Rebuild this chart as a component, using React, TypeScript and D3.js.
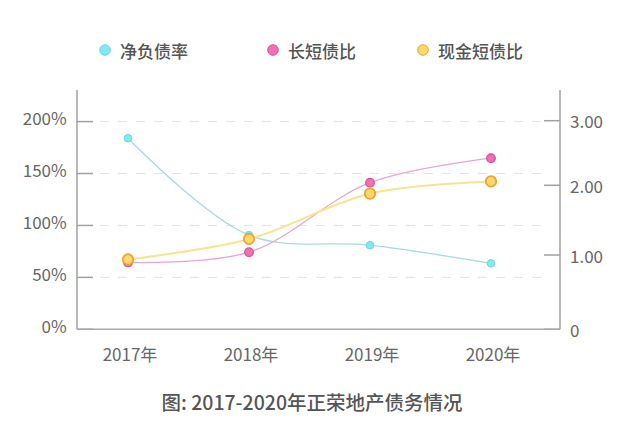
import React from "react";
import * as d3 from "d3";

const years = ["2017年", "2018年", "2019年", "2020年"];
const netDebtRatio = [184, 90.7, 81, 63.5]; // %
const longShortRatio = [0.9, 1.04, 2.04, 2.42];
const cashShortRatio = [0.94, 1.23, 1.88, 2.06];
const leftTicks = [0, 50, 100, 150, 200];
const rightTicks = [0, 1, 2, 3];
const legendNames = ["净负债率", "长短债比", "现金短债比"];
const title = "图: 2017-2020年正荣地产债务情况";

const W = 625;
const H = 432;
const FONT = "'Noto Sans CJK SC', 'Noto Sans', sans-serif";

export default function App() {
  const left = 77;
  const right = 560;
  const top = 90;
  const bottom = 329.3;

  const x = d3.scalePoint<string>().domain(years).range([128, 491]);
  const yL = d3.scaleLinear().domain([0, 200]).range([bottom, 121.6]);
  const yR = d3.scaleLinear().domain([0, 1, 2, 3]).range([bottom, 255, 185.3, 120.7]);

  const curve = d3.curveCatmullRom.alpha(0.5);
  const lineL = d3
    .line<number>()
    .x((_, i) => x(years[i]) as number)
    .y((d) => yL(d))
    .curve(curve);
  const lineR = d3
    .line<number>()
    .x((_, i) => x(years[i]) as number)
    .y((d) => yR(d))
    .curve(curve);

  const series = [
    { name: legendNames[0], data: netDebtRatio, line: lineL, y: yL, stroke: "#a9dadf", width: 1.3, fill: "#80eaf3", pstroke: "#6fd6e2", r: 3.8, sw: 1 },
    { name: legendNames[1], data: longShortRatio, line: lineR, y: yR, stroke: "#e8a6cf", width: 1.3, fill: "#f26fb4", pstroke: "#d2509a", r: 4.3, sw: 1.2 },
    { name: legendNames[2], data: cashShortRatio, line: lineR, y: yR, stroke: "#f8e48c", width: 2, fill: "#ffda6a", pstroke: "#eea234", r: 5.2, sw: 1.8 },
  ];

  const legendX = [105, 273, 423];

  return (
    <svg width={W} height={H} style={{ position: "absolute", left: 0, top: 0, background: "#fff" }} fontFamily={FONT}>
      <rect width={W} height={H} fill="#fff" />
      {/* legend */}
      {series.map((s, i) => (
        <g key={s.name}>
          <circle cx={legendX[i]} cy={50} r={5.3} fill={s.fill} stroke={s.pstroke} strokeWidth={1} />
          <text x={legendX[i] + 15} y={50} dominantBaseline="central" fontSize={17} fill="#555" fontWeight={500}>
            {s.name}
          </text>
        </g>
      ))}

      {/* gridlines */}
      {leftTicks.slice(1).map((t) => (
        <line key={t} x1={100} x2={544} y1={yL(t)} y2={yL(t)} stroke="#e2e2e2" strokeWidth={1} strokeDasharray="9 9" />
      ))}

      {/* left axis */}
      <line x1={left} x2={left} y1={top} y2={bottom} stroke="#a0a0a0" strokeWidth={1.5} />
      {leftTicks.map((t) => (
        <g key={t}>
          <line x1={left} x2={left + 16} y1={yL(t)} y2={yL(t)} stroke="#a0a0a0" strokeWidth={1.5} />
          <text x={66.7} y={yL(t) - 4} textAnchor="end" dominantBaseline="central" fontSize={17} fill="#666">
            {t + "%"}
          </text>
        </g>
      ))}

      {/* right axis */}
      <line x1={right} x2={right} y1={top} y2={bottom} stroke="#a0a0a0" strokeWidth={1.5} />
      {rightTicks.map((t) => (
        <g key={t}>
          <line x1={right - 16} x2={right} y1={yR(t)} y2={yR(t)} stroke="#a0a0a0" strokeWidth={1.5} />
          <text x={570} y={yR(t)} dominantBaseline="central" fontSize={17} fill="#666">
            {t === 0 ? "0" : d3.format(".2f")(t)}
          </text>
        </g>
      ))}

      {/* bottom axis */}
      <line x1={left} x2={right} y1={bottom} y2={bottom} stroke="#a8a8a8" strokeWidth={1.5} />
      {years.map((yv) => (
        <text key={yv} x={(x(yv) as number) + 2} y={353} textAnchor="middle" dominantBaseline="central" fontSize={17} fill="#666">
          {yv}
        </text>
      ))}

      {/* lines */}
      {series.map((s) => (
        <path key={s.name} d={s.line(s.data) || ""} fill="none" stroke={s.stroke} strokeWidth={s.width} />
      ))}
      {/* points */}
      {series.map((s) => (
        <g key={s.name + "p"}>
          {s.data.map((v, i) => (
            <circle key={i} cx={x(years[i]) as number} cy={s.y(v)} r={s.r} fill={s.fill} stroke={s.pstroke} strokeWidth={s.sw} />
          ))}
        </g>
      ))}

      {/* title */}
      <text x={312} y={401.5} textAnchor="middle" dominantBaseline="central" fontSize={19.5} fill="#555" fontWeight={500}>
        {title}
      </text>
    </svg>
  );
}
